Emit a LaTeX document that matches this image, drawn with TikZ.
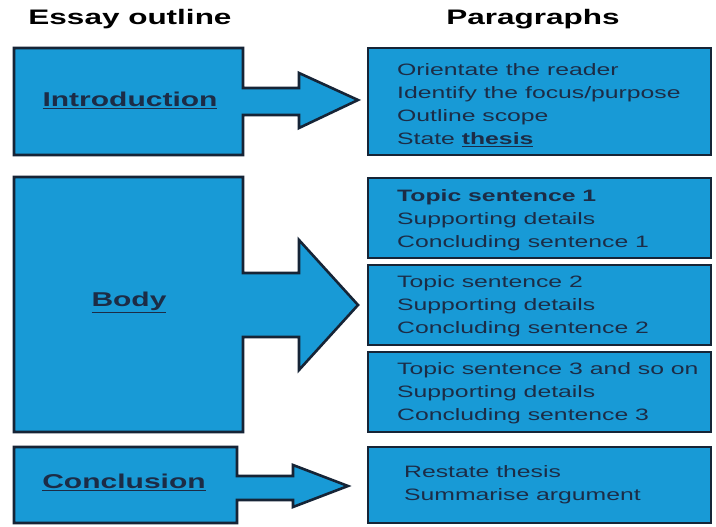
\documentclass[tikz,border=0pt]{standalone}
\usepackage{fontspec}
\setmainfont[FakeStretch=1.5]{Liberation Sans}
\definecolor{boxblue}{RGB}{24,154,214}
\definecolor{edge}{RGB}{22,36,54}
\definecolor{ink}{RGB}{28,44,70}
\begin{document}
\begin{tikzpicture}[x=1pt,y=-1pt,
  blockshape/.style={fill=boxblue,draw=edge,line width=2.6pt,line join=miter},
  parbox/.style={blockshape},
  headtext/.style={font=\bfseries\fontsize{21}{23}\selectfont,text=black},
  lbltext/.style={font=\bfseries\fontsize{20}{22}\selectfont,text=ink},
  partext/.style={font=\fontsize{16.5}{23}\selectfont,text=ink,align=left,anchor=west,inner sep=0pt}]
\useasboundingbox (0,0) rectangle (716,527);
\fill[white] (0,0) rectangle (716,527);
% headers
\node[headtext] (h1) at (130,19) {Essay outline};
\node[headtext] (h2) at (533,19) {Paragraphs};
% left shapes with arrows
\draw[blockshape] (14,48) -- (243,48) -- (243,88) -- (299,88) -- (299,73) -- (358,100) -- (299,128) -- (299,115) -- (243,115) -- (243,155) -- (14,155) -- cycle;
\draw[blockshape] (14,177) -- (243,177) -- (243,273) -- (299,273) -- (299,240) -- (358,305) -- (299,370) -- (299,337) -- (243,337) -- (243,432) -- (14,432) -- cycle;
\draw[blockshape] (14,447) -- (237,447) -- (237,476) -- (293,476) -- (293,465) -- (348,486) -- (293,507) -- (293,500) -- (237,500) -- (237,523) -- (14,523) -- cycle;
\node[lbltext] (intro) at (130,100) {\underline{Introduction}};
\node[lbltext] (bodyl) at (129,302) {\underline{Body}};
\node[lbltext] (concl) at (124,482) {\underline{Conclusion}};
% right boxes
\draw[parbox] (368,48) rectangle (711,155);
\draw[parbox] (368,178) rectangle (711,258);
\draw[parbox] (368,265) rectangle (711,345);
\draw[parbox] (368,352) rectangle (711,432);
\draw[parbox] (368,447) rectangle (711,523);
\node[partext] (t1) at (397,105) {Orientate the reader\\Identify the focus/purpose\\Outline scope\\State \textbf{\underline{thesis}}};
\node[partext] (t2) at (397,220) {\textbf{Topic sentence 1}\\Supporting details\\Concluding sentence 1};
\node[partext] (t3) at (397,306) {Topic sentence 2\\Supporting details\\Concluding sentence 2};
\node[partext] (t4) at (397,393) {Topic sentence 3 and so on\\Supporting details\\Concluding sentence 3};
\node[partext] (t5) at (404,485) {Restate thesis\\Summarise argument};
\end{tikzpicture}
\end{document}
